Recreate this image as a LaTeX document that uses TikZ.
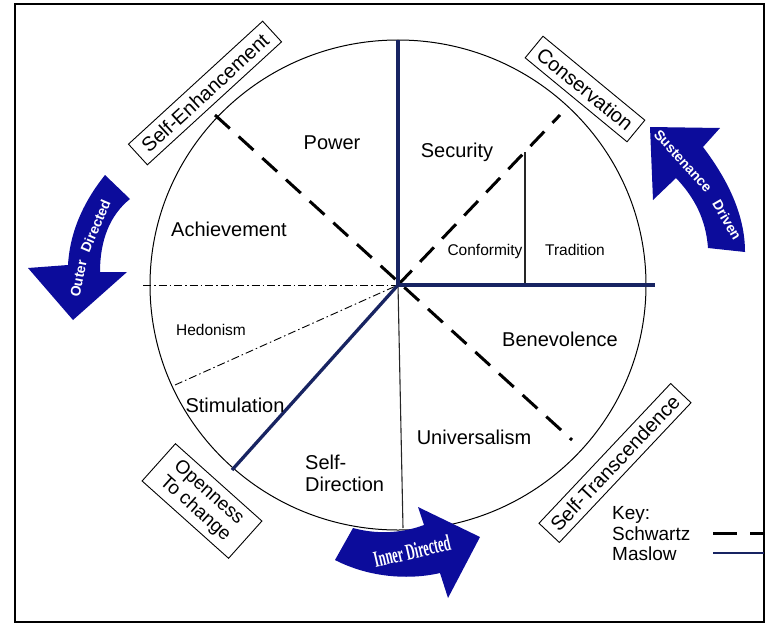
\documentclass[tikz,border=0pt]{standalone}
\usepackage{fontspec}
\usepackage{graphicx}
\setmainfont{Liberation Sans}
\newfontfamily\serifb{Liberation Serif}
\definecolor{navy}{RGB}{24,36,98}
\definecolor{arrowblue}{RGB}{12,12,155}
\begin{document}
\begin{tikzpicture}[x=1pt,y=-1pt,
  lbl/.style={font=\fontsize{20}{22}\selectfont, anchor=base, inner sep=0pt},
  small/.style={font=\fontsize{15.5}{17}\selectfont, anchor=base, inner sep=0pt},
  key/.style={font=\fontsize{19}{21}\selectfont, anchor=base west, inner sep=0pt},
  grp/.style={draw=black, line width=0.9pt, fill=white, font=\fontsize{20}{22}\selectfont, inner sep=0pt, minimum height=28pt},
  maslow/.style={draw=navy, line width=3.3pt},
  schwartz/.style={draw=black, line width=3pt, dash pattern=on 20pt off 12pt},
  dashdot/.style={draw=black, line width=0.9pt, dash pattern=on 8pt off 3pt on 1.5pt off 3pt},
  thinline/.style={draw=black!85, line width=1.1pt},
  bigarrow/.style={fill=arrowblue, draw=none},
  atext/.style={text=white, font=\bfseries\fontsize{14}{15}\selectfont, inner sep=0pt}
]
\useasboundingbox (0,0) rectangle (781,626);
% frame
\draw[line width=1.2pt] (15,4) rectangle (764,622);

% coordinates
\coordinate (C) at (398,285);
\coordinate (Top) at (398,40);
\coordinate (E) at (655,285);
\coordinate (SW) at (232,470);
\coordinate (NW) at (215,115);
\coordinate (SE) at (572,440);
\coordinate (NE) at (560,115);
\coordinate (W) at (143,285);
\coordinate (WSW) at (175,385);
\coordinate (S) at (403,528);
\coordinate (CT1) at (525,152);
\coordinate (CT2) at (525,285);

% circle and sector lines
\draw[line width=1pt] (C) ellipse [x radius=248pt, y radius=245pt];
\draw[thinline] (C) -- (S);
\draw[thinline] (CT1) -- (CT2);
\draw[dashdot] (W) -- (C);
\draw[dashdot] (WSW) -- (C);
\draw[schwartz] (NW) -- (SE);
\draw[schwartz] (C) -- (NE);
\draw[maslow] (Top) -- (C) -- (E);
\draw[maslow] (C) -- (SW);

% sector labels
\node[lbl] (power) at (332,149) {Power};
\node[lbl] (security) at (457,157) {Security};
\node[lbl] (achievement) at (229,236) {Achievement};
\node[small] (conformity) at (485,255.5) {Conformity};
\node[small] (tradition) at (575,255.5) {Tradition};
\node[small] (hedonism) at (211,335.5) {Hedonism};
\node[lbl] (benevolence) at (560,346) {Benevolence};
\node[lbl] (stimulation) at (235,412) {Stimulation};
\node[lbl] (universalism) at (474,444) {Universalism};
\node[lbl, anchor=base west] (self) at (305,469) {Self-};
\node[lbl, anchor=base west] (direction) at (305,491) {Direction};

% group boxes
\node[grp, rotate=42.5, minimum width=182pt] (se) at (205,93) {Self-Enhancement};
\node[grp, rotate=-39.5, minimum width=132pt] (cons) at (585,89) {Conservation};
\node[grp, rotate=46.7, minimum width=192pt] (st) at (615,463) {Self-Transcendence};
\node[grp, rotate=-41.8, minimum width=116pt, minimum height=50pt, align=left, font=\fontsize{19}{21}\selectfont] (open) at (202,501) {Openness\\To change};

% curved arrows
\fill[arrowblue] (105,175) .. controls (85,200) and (70,230) .. (68,265) -- (28,268) -- (73,320) -- (127,272) -- (100,272) .. controls (100,240) and (110,215) .. (130,199) -- cycle;
\fill[arrowblue] (650,127) -- (720,128) -- (703,147) .. controls (728,180) and (745,215) .. (745,252) -- (708,248) .. controls (706,220) and (695,198) .. (676,178) -- (653,200) -- cycle;
\fill[arrowblue] (353,528) .. controls (375,534) and (400,534) .. (424,525) -- (418,507) -- (480,537) -- (448,598) -- (440,573) .. controls (410,580) and (370,578) .. (335,560) -- cycle;

\node[atext, rotate=79] (od1) at (78.5,278.5) {Outer};
\node[atext, rotate=67] (od2) at (95.5,226) {Directed};
\node[atext, rotate=-48] (sd1) at (683,161) {Sustenance};
\node[atext, rotate=-60] (sd2) at (727,220) {Driven};
\node[text=white, font=\serifb\bfseries\fontsize{23}{24}\selectfont, inner sep=0pt, rotate=13] (id) at (412,551) {\scalebox{0.54}[1]{Inner Directed}};

% key
\node[key] (k1) at (612,519) {Key:};
\node[key] (k2) at (612,540) {Schwartz};
\node[key] (k3) at (612,560) {Maslow};
\coordinate (ks1) at (713,533);
\coordinate (ke1) at (764,533);
\coordinate (ks2) at (713,553);
\coordinate (ke2) at (764,553);
\draw[schwartz, dash pattern=on 24pt off 13pt] (ks1) -- (ke1);
\draw[maslow, line width=2.6pt] (ks2) -- (ke2);
\end{tikzpicture}
\end{document}
